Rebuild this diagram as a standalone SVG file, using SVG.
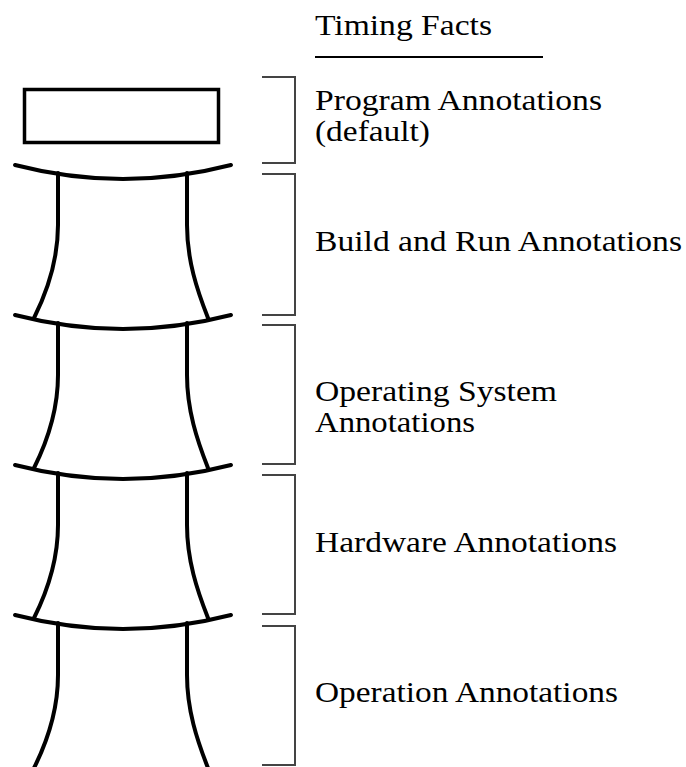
<svg xmlns="http://www.w3.org/2000/svg" width="686" height="767" viewBox="0 0 686 767">
<style>
.bone{fill:none;stroke:#000;stroke-width:4;stroke-linecap:round;stroke-linejoin:round}
.br{fill:none;stroke:#444;stroke-width:2}
.t{font-family:"Liberation Serif","Times New Roman",serif;font-size:29px;fill:#000}
</style>
<defs>
<g id="vert">
<path class="bone" d="M15,0 Q123,28 231,0"/>
<path class="bone" d="M58,8 L58,60 C58,95 48,125 34,153"/>
<path class="bone" d="M187,8 L187,60 C187,95 197,125 208,153"/>
</g>
</defs>
<rect width="686" height="767" fill="#fff"/>
<g id="title">
<text class="t" x="315" y="35" textLength="177" lengthAdjust="spacingAndGlyphs">Timing Facts</text>
<line x1="315" y1="57" x2="543" y2="57" stroke="#000" stroke-width="2"/>
</g>
<g id="program">
<rect x="24.5" y="89.5" width="194" height="53" fill="none" stroke="#000" stroke-width="3.5"/>
<path class="br" d="M262,77 H295 V163 H262"/>
<text class="t" x="315" y="110" textLength="287" lengthAdjust="spacingAndGlyphs">Program Annotations</text>
<text class="t" x="315" y="141" textLength="115" lengthAdjust="spacingAndGlyphs">(default)</text>
</g>
<g id="build">
<use href="#vert" transform="translate(0,165)"/>
<path class="br" d="M262,174 H295 V315 H262"/>
<text class="t" x="315" y="251" textLength="367" lengthAdjust="spacingAndGlyphs">Build and Run Annotations</text>
</g>
<g id="os">
<use href="#vert" transform="translate(0,315)"/>
<path class="br" d="M262,325 H295 V464 H262"/>
<text class="t" x="315" y="401" textLength="242" lengthAdjust="spacingAndGlyphs">Operating System</text>
<text class="t" x="315" y="432" textLength="160" lengthAdjust="spacingAndGlyphs">Annotations</text>
</g>
<g id="hardware">
<use href="#vert" transform="translate(0,465)"/>
<path class="br" d="M262,475 H295 V614 H262"/>
<text class="t" x="315" y="552" textLength="302" lengthAdjust="spacingAndGlyphs">Hardware Annotations</text>
</g>
<g id="operation">
<use href="#vert" transform="translate(0,615)"/>
<path class="br" d="M262,626 H295 V765 H262"/>
<text class="t" x="315" y="702" textLength="303" lengthAdjust="spacingAndGlyphs">Operation Annotations</text>
</g>
<g id="connectors"></g>
</svg>
